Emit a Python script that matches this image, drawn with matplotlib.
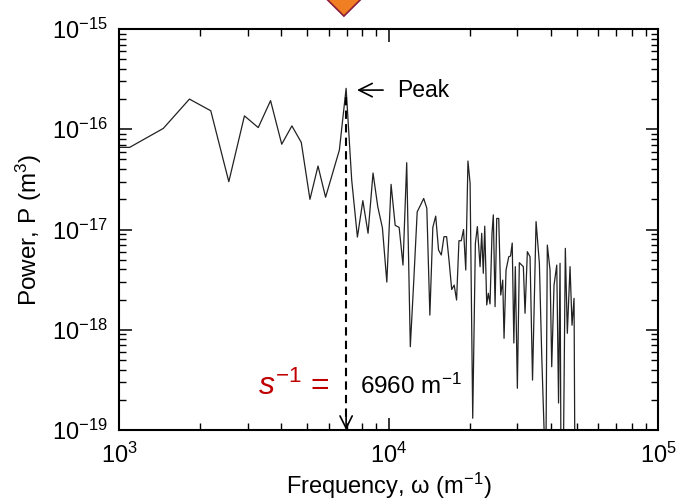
import matplotlib.pyplot as plt
from matplotlib.patches import Polygon
from matplotlib.ticker import LogLocator, NullFormatter

plt.rcParams['font.family'] = ['Liberation Sans', 'DejaVu Sans']
plt.rcParams['mathtext.fontset'] = 'custom'
plt.rcParams['mathtext.rm'] = 'Liberation Sans'
plt.rcParams['mathtext.it'] = 'Liberation Sans:italic'
plt.rcParams['mathtext.default'] = 'regular'

# spectrum (frequency in 1/m, power in m^3)
freq = [730, 1095, 1460, 1825, 2190, 2555, 2920, 3285, 3650, 4015, 4380,
        4745, 5110, 5475, 5840, 6570, 6960,
        7300, 7665, 8030, 8395, 8760, 9125, 9490, 9855, 10220, 10585,
        10950, 11315, 11680, 12045, 12410, 12775, 13140, 13505, 13870, 14235,
        14600, 14965, 15330, 15695, 16060, 16425, 16790, 17155, 17520, 17885,
        18250, 18615, 18980, 19345, 19710, 20075,
        20530, 21000, 21360, 21860, 22170, 22470, 22750, 23140, 23460, 23800,
        24210, 24480, 24850, 25200, 25640, 26080, 26530, 26830, 27290, 27930,
        28360, 28770, 29170, 29540, 30060, 30570, 31200, 31640, 32100, 32740,
        33500, 34220, 35270, 36280, 37030, 38310, 38830, 39740, 40320, 41120,
        42090, 42740, 43290, 43930, 45290, 46070, 47150, 47960, 48790, 49500]

power = [6.6e-17, 6.6e-17, 1.02e-16, 2.0e-16, 1.53e-16, 3.0e-17, 1.36e-16,
         1.04e-16, 1.93e-16, 7.1e-17, 1.08e-16, 7.4e-17, 2.0e-17, 4.3e-17,
         2.1e-17, 6.2e-17, 2.56e-16,
         3.12e-17, 8.41e-18, 1.94e-17, 9.17e-18, 3.66e-17, 1.68e-17, 1.04e-17,
         2.99e-18, 2.82e-17, 1.10e-17, 1.05e-17, 4.42e-18, 4.64e-17, 6.78e-19,
         3.13e-18, 1.50e-17, 1.75e-17, 2.04e-17, 1.63e-17, 1.40e-18, 1.05e-17,
         1.36e-17, 6.25e-18, 5.57e-18, 8.48e-18, 8.48e-18, 4.74e-18, 2.52e-18,
         2.79e-18, 1.98e-18, 7.73e-18, 7.73e-18, 1.00e-17, 3.94e-18, 4.82e-17,
         2.89e-17,
         1.31e-19, 7.28e-18, 1.07e-17, 4.26e-18, 9.17e-18, 3.66e-18, 1.08e-17,
         1.77e-18, 2.31e-18, 1.81e-18, 9.17e-18, 1.40e-17, 1.70e-18, 1.29e-17,
         1.29e-17, 2.22e-18, 3.13e-18, 8.22e-19, 3.94e-18, 5.35e-18, 5.44e-18,
         7.33e-18, 7.38e-19, 4.26e-18, 2.61e-19, 4.67e-18, 4.42e-18, 4.26e-18,
         1.46e-18, 6.01e-18, 5.35e-18, 3.15e-19, 1.20e-17, 4.60e-18, 5.38e-19,
         3e-20, 7.00e-18, 3.94e-18, 4.28e-19, 2.79e-18, 4.42e-18, 1.86e-19,
         4.60e-18, 1e-21, 6.49e-18, 9.23e-19, 4.26e-18, 1.11e-18, 2.06e-18,
         1e-21]

xticks = [1e3, 1e4, 1e5]
xtick_labels = [r'10$^{3}$', r'10$^{4}$', r'10$^{5}$']
yticks = [1e-19, 1e-18, 1e-17, 1e-16, 1e-15]
ytick_labels = [r'10$^{-19}$', r'10$^{-18}$', r'10$^{-17}$', r'10$^{-16}$',
                r'10$^{-15}$']

peak_freq = 6960

fig = plt.figure(figsize=(6.77, 5.03), dpi=100)
ax = fig.add_axes([0.1758, 0.1451, 0.7962, 0.7972])

ax.plot(freq, power, color='#222222', lw=0.9)

ax.set_xscale('log')
ax.set_yscale('log')
ax.set_xlim(1e3, 1e5)
ax.set_ylim(1e-19, 1e-15)
ax.set_xticks(xticks, xtick_labels)
ax.set_yticks(yticks, ytick_labels)
ax.xaxis.set_minor_locator(LogLocator(base=10, subs=range(2, 10)))
ax.yaxis.set_minor_locator(LogLocator(base=10, subs=range(2, 10)))
ax.xaxis.set_minor_formatter(NullFormatter())
ax.yaxis.set_minor_formatter(NullFormatter())

for s in ax.spines.values():
    s.set_linewidth(1.5)
ax.tick_params(which='both', direction='in', top=True, right=True)
ax.tick_params(which='major', length=9, width=1.1, labelsize=17)
ax.tick_params(which='minor', length=5, width=1.0)
ax.tick_params(axis='x', which='major', pad=9)
ax.tick_params(axis='y', which='major', pad=8)

ax.set_xlabel(r'Frequency, ω (m$^{-1}$)', fontsize=17, labelpad=2)
ax.set_ylabel(r'Power, P (m$^{3}$)', fontsize=17.5, labelpad=6)

# dashed marker at the peak frequency
ax.plot([peak_freq, peak_freq], [2.1e-16, 1.2e-19], color='k', lw=1.5,
        linestyle=(0, (4, 2.5)))
ax.annotate('', xy=(peak_freq, 1e-19), xytext=(peak_freq, 1.4e-19),
            arrowprops=dict(arrowstyle='->', lw=1.2, color='k',
                            mutation_scale=22, shrinkA=0, shrinkB=0))

ax.annotate('Peak', xy=(7640, 2.46e-16), xytext=(10750, 2.46e-16),
            va='center', ha='left', fontsize=16.5,
            arrowprops=dict(arrowstyle='->', lw=1.2, color='k',
                            mutation_scale=24, shrinkA=8, shrinkB=0))

ax.text(7840, 2.75e-19, r'6960 m$^{-1}$', fontsize=17.5, va='center',
        ha='left')
ax.text(6070, 2.75e-19, r'$\mathit{s^{-1}}$ =', fontsize=23,
        color='#C00000', va='center', ha='right')

# orange marker cut off by the top edge
diamond = Polygon([(0.508, 1.004 + 0.036), (0.508 + 0.027, 1.004),
                   (0.508, 1.004 - 0.036), (0.508 - 0.027, 1.004)],
                  closed=True, transform=fig.transFigure, clip_on=False,
                  facecolor='#F07F23', edgecolor='#8B1A3A', lw=1.2)
fig.patches.append(diamond)

fig.savefig('out.png', dpi=100)
